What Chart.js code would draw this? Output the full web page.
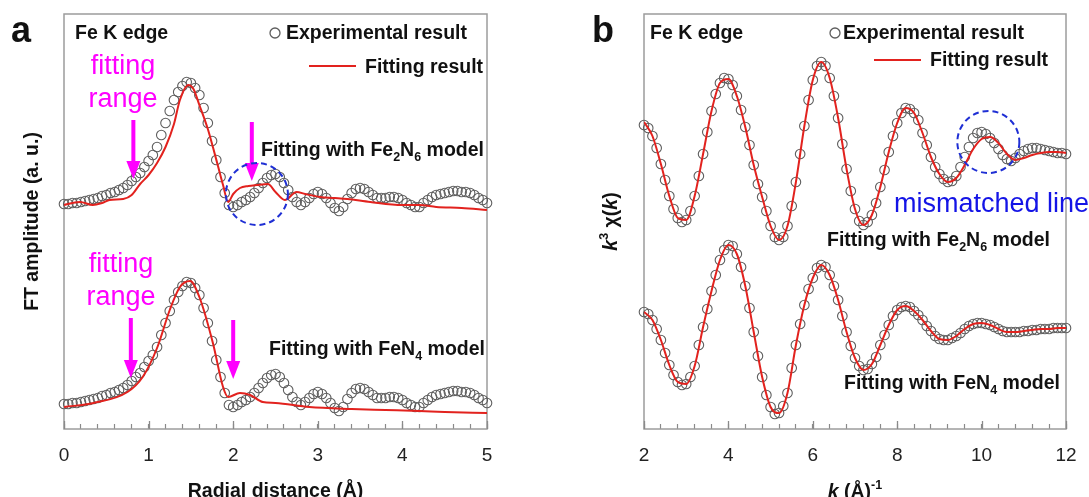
<!DOCTYPE html>
<html lang="en">
<head>
<meta charset="UTF-8">
<title>Fe K edge EXAFS fitting</title>
<script src="https://cdn.jsdelivr.net/npm/chart.js"></script>
<style>
    html, body {
        margin: 0;
        padding: 0;
        background: #fff;
        overflow: hidden;
    }
    body {
        width: 1089px;
        height: 497px;
        position: relative;
    }
    canvas {
        position: absolute;
        top: 0;
    }
    #chartA { left: 0; }
    #chartB { left: 545px; }
</style>
</head>
<body>
<canvas id="chartA" width="545" height="520" role="img" aria-label="FT amplitude versus radial distance"></canvas>
<canvas id="chartB" width="544" height="520" role="img" aria-label="k3 chi(k) versus k"></canvas>

<script>
    // ---- panel a: FT magnitude in R space (read every 0.05 A) ----
    // the same experimental curve is drawn twice, the upper copy on a shifted axis
    const rStep = 0.05;
    const ftExp = [
        1.6, 1.6, 1.7, 1.7, 1.8, 1.9, 2.0, 2.1, 2.2, 2.4,
        2.5, 2.7, 2.8, 3.0, 3.2, 3.5, 3.9, 4.3, 4.7, 5.3,
        5.9, 6.5, 7.3, 8.5, 9.7, 10.9, 12.0, 12.8, 13.4, 13.8,
        13.7, 13.2, 12.5, 11.2, 9.7, 7.9, 6.0, 4.3, 2.7, 1.5,
        1.3, 1.5, 1.8, 2.0, 2.3, 2.7, 3.2, 3.7, 4.2, 4.5,
        4.6, 4.3, 3.7, 3.0, 2.3, 1.8, 1.5, 1.8, 2.2, 2.6,
        2.8, 2.6, 2.2, 1.7, 1.2, 0.9, 1.3, 2.1, 2.7, 3.1,
        3.2, 3.1, 2.8, 2.5, 2.2, 2.2, 2.2, 2.3, 2.3, 2.2,
        2.0, 1.7, 1.5, 1.3, 1.3, 1.7, 2.0, 2.3, 2.5, 2.6,
        2.7, 2.8, 2.9, 2.9, 2.8, 2.8, 2.7, 2.5, 2.2, 2.0,
        1.7
    ];
    const fitFe2N6R = [0, 0.1, 0.19, 0.34, 0.45, 0.54, 0.7, 0.8, 0.9, 1.0,
        1.1, 1.2, 1.3, 1.37, 1.47, 1.53, 1.6, 1.7, 1.76, 1.82,
        1.88, 1.94, 2.0, 2.08, 2.18, 2.28, 2.41, 2.5, 2.61, 2.75,
        2.85, 3.03, 3.2, 3.35, 3.62, 4.0, 4.2, 4.4, 4.7, 5.0];
    const fitFe2N6Amp = [1.5, 1.7, 1.8, 1.5, 1.7, 2.0, 2.1, 2.5, 3.6, 4.5,
        5.7, 7.3, 9.6, 12.0, 13.5, 13.1, 11.5, 9.1, 7.3, 5.4,
        3.5, 1.8, 2.6, 3.2, 3.4, 3.5, 3.6, 2.8, 2.0, 2.8,
        2.6, 2.3, 2.2, 2.1, 1.8, 1.5, 1.5, 1.3, 1.2, 1.0];
    const fitFeN4R = [0, 0.35, 0.75, 0.93, 1.1, 1.25, 1.37, 1.49, 1.6, 1.76, 1.88,
        1.94, 2.08, 2.2, 2.35, 2.5, 2.9, 3.4, 3.8, 4.2, 4.5, 5.0];
    const fitFeN4Amp = [1.3, 1.7, 2.8, 4.3, 7.2, 11.0, 13.3, 13.9, 12.3, 7.7, 3.3,
        2.3, 2.7, 2.5, 1.8, 1.7, 1.3, 1.1, 1.0, 0.9, 0.8, 0.7];
    const ticksR = [0, 1, 2, 3, 4, 5];

    // ---- panel b: k3-weighted chi(k) ----
    const kStart = 2;
    const kStep = 0.1;
    const chiExpFe2N6 = [
        29.5, 29.2, 28.4, 27.2, 25.6, 24.0, 22.4, 21.1, 20.2, 19.8,
        20.0, 20.9, 22.4, 24.4, 26.6, 28.8, 30.9, 32.6, 33.7, 34.2,
        34.1, 33.5, 32.4, 31.0, 29.3, 27.5, 25.5, 23.6, 22.3, 20.9,
        19.4, 18.3, 18.0, 18.3, 19.4, 21.4, 23.8, 26.6, 29.4, 32.0,
        34.0, 35.4, 35.8, 35.4, 34.2, 32.4, 30.2, 27.6, 25.1, 22.9,
        21.1, 19.9, 19.5, 19.8, 20.5, 21.7, 23.3, 25.0, 26.8, 28.4,
        29.7, 30.7, 31.2, 31.1, 30.7, 30.0, 28.7, 27.5, 26.3, 25.3,
        24.6, 24.1, 23.8, 23.9, 24.4, 25.3, 26.3, 27.3, 28.2, 28.7,
        28.8, 28.6, 28.2, 27.7, 27.1, 26.5, 26.1, 25.9, 26.2, 26.6,
        26.9, 27.1, 27.2, 27.2, 27.1, 27.0, 26.9, 26.8, 26.7, 26.7,
        26.6
    ];
    const chiExpFeN4 = [
        10.8, 10.6, 10.0, 9.1, 8.0, 6.7, 5.5, 4.5, 3.8, 3.5,
        3.6, 4.3, 5.4, 7.5, 9.3, 11.1, 12.9, 14.5, 16.0, 17.0,
        17.5, 17.4, 16.6, 15.3, 13.4, 11.2, 8.8, 6.4, 4.3, 2.5,
        1.3, 0.6, 0.7, 1.4, 2.7, 5.2, 7.5, 9.6, 11.5, 13.1,
        14.2, 15.2, 15.5, 15.3, 14.5, 13.4, 12.0, 10.4, 8.8, 7.4,
        6.2, 5.4, 5.0, 5.1, 5.6, 6.3, 7.5, 8.5, 9.5, 10.4,
        11.0, 11.3, 11.4, 11.3, 10.9, 10.5, 10.0, 9.4, 8.9, 8.4,
        8.1, 8.0, 8.0, 8.2, 8.4, 8.7, 9.1, 9.4, 9.6, 9.7,
        9.7, 9.6, 9.5, 9.3, 9.1, 8.9, 8.8, 8.8, 8.8, 8.8,
        8.9, 8.9, 9.0, 9.0, 9.1, 9.1, 9.1, 9.2, 9.2, 9.2,
        9.2
    ];
    const kFitStep = 0.2;
    const chiFitFe2N6 = [
        29.8, 28.4, 25.6, 22.4, 20.2, 20.0, 22.4, 26.6, 30.9, 33.7,
        34.1, 32.4, 29.3, 25.5, 22.3, 19.4, 18.0, 19.4, 23.8, 29.4,
        34.0, 35.8, 34.2, 30.2, 25.1, 21.1, 19.5, 20.5, 23.3, 26.8,
        29.7, 31.2, 30.7, 28.7, 26.3, 24.6, 23.8, 24.2, 25.5, 27.1,
        28.1, 28.3, 27.7, 26.6, 26.0, 26.2, 26.5, 26.7, 26.8, 26.8,
        26.7
    ];
    const chiFitFeN4 = [
        10.8, 10.0, 8.0, 5.5, 3.8, 3.6, 5.4, 9.3, 12.9, 16.0,
        17.5, 16.6, 13.4, 8.8, 4.3, 1.3, 0.7, 2.7, 7.5, 11.5,
        14.2, 15.5, 14.5, 12.0, 8.8, 6.2, 5.0, 5.6, 7.5, 9.5,
        11.0, 11.4, 10.9, 10.0, 8.9, 8.1, 8.0, 8.4, 9.1, 9.6,
        9.7, 9.5, 9.1, 8.8, 8.8, 8.9, 9.0, 9.1, 9.1, 9.2,
        9.2
    ];
    const ticksK = [2, 4, 6, 8, 10, 12];

    const FONT = '"Liberation Sans", Arial, Helvetica, sans-serif';
    const RED = '#e2221e';
    const GREY = '#5e5e5e';
    const MAGENTA = '#ff00ff';
    const BLUE = '#1f2fd4';
    Chart.defaults.font.family = FONT;
    Chart.defaults.color = '#111';

    const xsFrom = (start, step, n) => Array.from({ length: n }, (_, i) => +(start + i * step).toFixed(2));
    const pts = (xs, ys) => ys.map((y, i) => ({ x: xs[i], y: y }));
    const rGrid = xsFrom(0, rStep, ftExp.length);
    const kGrid = xsFrom(kStart, kStep, chiExpFe2N6.length);
    const kFitGrid = xsFrom(kStart, kFitStep, chiFitFe2N6.length);

    // ---- drawing helpers for the notes ----
    function seg(t, opt) {
        return Object.assign({ t: t, size: 19.5, bold: true, italic: false, dy: 0 }, opt || {});
    }
    function drawText(ctx, parts, x, y, align, color) {
        const fontOf = p => (p.italic ? 'italic ' : '') + (p.bold ? 'bold ' : '') + p.size + 'px ' + FONT;
        ctx.save();
        ctx.fillStyle = color || '#111';
        ctx.textBaseline = 'alphabetic';
        ctx.textAlign = 'left';
        let w = 0;
        parts.forEach(p => { ctx.font = fontOf(p); w += ctx.measureText(p.t).width; });
        let cx = align === 'right' ? x - w : align === 'center' ? x - w / 2 : x;
        parts.forEach(p => {
            ctx.font = fontOf(p);
            ctx.fillText(p.t, cx, y + p.dy);
            cx += ctx.measureText(p.t).width;
        });
        ctx.restore();
    }
    function arrow(ctx, x, y1, y2) {
        ctx.save();
        ctx.strokeStyle = MAGENTA;
        ctx.fillStyle = MAGENTA;
        ctx.lineWidth = 4;
        ctx.beginPath();
        ctx.moveTo(x, y1);
        ctx.lineTo(x, y2 - 15);
        ctx.stroke();
        ctx.beginPath();
        ctx.moveTo(x - 7, y2 - 18);
        ctx.lineTo(x + 7, y2 - 18);
        ctx.lineTo(x, y2);
        ctx.closePath();
        ctx.fill();
        ctx.restore();
    }
    function ring(ctx, x, y, r) {
        ctx.save();
        ctx.strokeStyle = BLUE;
        ctx.lineWidth = 2;
        ctx.setLineDash([6, 4]);
        ctx.beginPath();
        ctx.arc(x, y, r, 0, Math.PI * 2);
        ctx.stroke();
        ctx.restore();
    }
    function legendMarks(ctx, cx, cy, lx1, lx2, ly) {
        ctx.save();
        ctx.strokeStyle = GREY;
        ctx.lineWidth = 1.3;
        ctx.beginPath();
        ctx.arc(cx, cy, 5, 0, Math.PI * 2);
        ctx.stroke();
        ctx.strokeStyle = RED;
        ctx.lineWidth = 2;
        ctx.beginPath();
        ctx.moveTo(lx1, ly);
        ctx.lineTo(lx2, ly);
        ctx.stroke();
        ctx.restore();
    }

    const labelFe2N6 = [seg('Fitting with Fe'), seg('2', { size: 12.5, dy: 5 }), seg('N'),
        seg('6', { size: 12.5, dy: 5 }), seg(' model')];
    const labelFeN4 = [seg('Fitting with FeN'), seg('4', { size: 12.5, dy: 5 }), seg(' model')];
    const pink = t => [seg(t, { size: 27, bold: false })];

    function notesA(ctx, x) {
        drawText(ctx, [seg('a', { size: 36 })], 11, 42);
        drawText(ctx, [seg('Fe K edge')], 75, 39);
        legendMarks(ctx, 275, 33, 309, 356, 66);
        drawText(ctx, [seg('Experimental result')], 286, 39);
        drawText(ctx, [seg('Fitting result')], 365, 73);

        drawText(ctx, pink('fitting'), 123, 74, 'center', MAGENTA);
        drawText(ctx, pink('range'), 123, 107, 'center', MAGENTA);
        arrow(ctx, x.getPixelForValue(0.82), 120, 179);
        arrow(ctx, x.getPixelForValue(2.22), 122, 181);
        ring(ctx, x.getPixelForValue(2.28), 194, 31);
        drawText(ctx, labelFe2N6, 484, 156, 'right');

        drawText(ctx, pink('fitting'), 121, 272, 'center', MAGENTA);
        drawText(ctx, pink('range'), 121, 305, 'center', MAGENTA);
        arrow(ctx, x.getPixelForValue(0.79), 318, 378);
        arrow(ctx, x.getPixelForValue(2.0), 320, 379);
        drawText(ctx, labelFeN4, 485, 355, 'right');
    }

    function notesB(ctx, x) {
        drawText(ctx, [seg('b', { size: 36 })], 47, 42);
        drawText(ctx, [seg('Fe K edge')], 105, 39);
        legendMarks(ctx, 290, 33, 329, 376, 60);
        drawText(ctx, [seg('Experimental result')], 298, 39);
        drawText(ctx, [seg('Fitting result')], 385, 66);

        ring(ctx, x.getPixelForValue(10.16), 142, 31);
        drawText(ctx, [seg('mismatched line', { size: 27, bold: false })], 349, 212, 'left', '#1414e6');
        drawText(ctx, labelFe2N6, 505, 246, 'right');
        drawText(ctx, labelFeN4, 515, 389, 'right');

        // axis titles with italic k and superscripts
        drawText(ctx, [seg('k', { italic: true }), seg(' (Å)'), seg('-1', { size: 12.5, dy: -9 })],
            x.getPixelForValue(7), 498, 'center');
        ctx.save();
        ctx.translate(65, 221.5);
        ctx.rotate(-Math.PI / 2);
        drawText(ctx, [seg('k', { italic: true }), seg('3', { size: 12.5, dy: -9 }), seg(' χ('),
            seg('k', { italic: true }), seg(')')], 0, 7, 'center');
        ctx.restore();
    }

    function notesPlugin(draw, labelled) {
        return {
            id: 'notes',
            beforeDatasetsDraw(chart) {
                const { ctx, chartArea: a } = chart;
                const x = chart.scales.x;
                ctx.save();
                ctx.strokeStyle = '#9c9c9c';
                ctx.lineWidth = 1.5;
                ctx.strokeRect(a.left, a.top, a.right - a.left, a.bottom - a.top);
                // longer inner ticks at the labelled values
                ctx.strokeStyle = '#8a8a8a';
                ctx.lineWidth = 1.3;
                labelled.forEach(v => {
                    const px = Math.round(x.getPixelForValue(v)) + 0.5;
                    ctx.beginPath();
                    ctx.moveTo(px, a.bottom);
                    ctx.lineTo(px, a.bottom - 8);
                    ctx.stroke();
                });
                ctx.restore();
            },
            afterDraw(chart) {
                draw(chart.ctx, chart.scales.x);
            }
        };
    }

    const fitStyle = { showLine: true, borderColor: RED, borderWidth: 2, pointRadius: 0,
        cubicInterpolationMode: 'monotone', order: 0 };
    const expStyle = { showLine: false, pointRadius: 4.8, pointBorderWidth: 1.1,
        pointBorderColor: GREY, pointBackgroundColor: 'rgba(255,255,255,0)', clip: false, order: 1 };

    function xAxis(min, max, step, labelled, extra) {
        return Object.assign({
            type: 'linear', min: min, max: max,
            afterFit: s => { s.height = 91; s.paddingLeft = 0; s.paddingRight = 0; },
            ticks: {
                stepSize: step, autoSkip: false, maxRotation: 0, padding: 20,
                color: '#222', font: { size: 19 },
                callback: v => labelled.some(t => Math.abs(t - v) < 1e-6) ? String(Math.round(v)) : ''
            },
            grid: { display: true, drawOnChartArea: false, drawTicks: true, tickLength: -5,
                color: '#8a8a8a', tickWidth: 1.2 },
            border: { display: false }
        }, extra || {});
    }

    new Chart(document.getElementById('chartA'), {
        type: 'scatter',
        data: {
            datasets: [
                Object.assign({ label: 'Fitting with Fe2N6 model', data: pts(fitFe2N6R, fitFe2N6Amp), yAxisID: 'yTop' }, fitStyle),
                Object.assign({ label: 'Fitting with FeN4 model', data: pts(fitFeN4R, fitFeN4Amp), yAxisID: 'y' }, fitStyle),
                Object.assign({ label: 'Experimental result', data: pts(rGrid, ftExp), yAxisID: 'yTop' }, expStyle),
                Object.assign({ label: 'Experimental result', data: pts(rGrid, ftExp), yAxisID: 'y' }, expStyle)
            ]
        },
        options: {
            responsive: false,
            animation: false,
            events: [],
            layout: { padding: { left: 0, right: 58, top: 14, bottom: 0 } },
            plugins: { legend: { display: false }, tooltip: { enabled: false } },
            scales: {
                x: xAxis(0, 5, 0.2, ticksR, {
                    title: { display: true, text: 'Radial distance (Å)', color: '#111',
                        font: { size: 19.5, weight: 'bold' }, padding: { top: 0, bottom: 17 } }
                }),
                y: {
                    min: -0.9, max: 40.6,
                    afterFit: s => { s.width = 64; },
                    ticks: { display: false },
                    grid: { display: false },
                    border: { display: false },
                    title: { display: true, text: 'FT amplitude (a. u.)', color: '#111',
                        font: { size: 19.5, weight: 'bold' }, padding: { top: 21, bottom: 0 } }
                },
                yTop: { display: false, min: -20.9, max: 20.6 }
            }
        },
        plugins: [notesPlugin(notesA, ticksR)]
    });

    new Chart(document.getElementById('chartB'), {
        type: 'scatter',
        data: {
            datasets: [
                Object.assign({ label: 'Fitting with Fe2N6 model', data: pts(kFitGrid, chiFitFe2N6) }, fitStyle),
                Object.assign({ label: 'Fitting with FeN4 model', data: pts(kFitGrid, chiFitFeN4) }, fitStyle),
                Object.assign({ label: 'Experimental result', data: pts(kGrid, chiExpFe2N6) }, expStyle),
                Object.assign({ label: 'Experimental result', data: pts(kGrid, chiExpFeN4) }, expStyle)
            ]
        },
        options: {
            responsive: false,
            animation: false,
            events: [],
            layout: { padding: { left: 99, right: 23, top: 14, bottom: 0 } },
            plugins: { legend: { display: false }, tooltip: { enabled: false } },
            scales: {
                x: xAxis(2, 12, 0.4, ticksK),
                y: { display: false, min: -0.9, max: 40.6 }
            }
        },
        plugins: [notesPlugin(notesB, ticksK)]
    });
</script>
</body>
</html>
